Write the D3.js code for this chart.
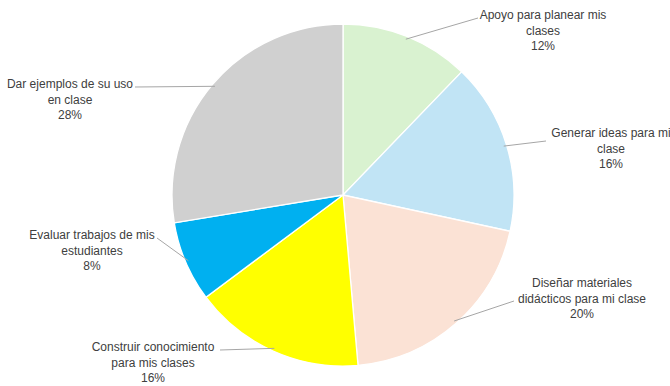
<!DOCTYPE html>
<html>
<head>
<meta charset="utf-8">
<script src="https://cdn.jsdelivr.net/npm/d3@7"></script>
<style>
  body { margin: 0; background: #fff; }
  svg { display: block; }
</style>
</head>
<body>
<div id="chart"></div>
<script>
// Data (shares; labels show them rounded)
const categories = [
  "Apoyo para planear mis clases",
  "Generar ideas para mi clase",
  "Diseñar materiales didácticos para mi clase",
  "Construir conocimiento para mis clases",
  "Evaluar trabajos de mis estudiantes",
  "Dar ejemplos de su uso en clase"
];
const values = [12.2, 16.2, 20.2, 16.2, 7.6, 27.6];
const labelLines = [
  ["Apoyo para planear mis", "clases"],
  ["Generar ideas para mi", "clase"],
  ["Diseñar materiales", "didácticos para mi clase"],
  ["Construir conocimiento", "para mis clases"],
  ["Evaluar trabajos de mis", "estudiantes"],
  ["Dar ejemplos de su uso", "en clase"]
];
const colors = ["#d9f2d0", "#c1e4f5", "#fbe2d5", "#ffff00", "#00b0f0", "#d0d0d0"];

// Label layout: block centre x, first line y, leader end point
const labelPos = [
  { x: 543, y: 15, lx: 478, ly: 18 },
  { x: 611, y: 133, lx: 546, ly: 141 },
  { x: 582, y: 283, lx: 514, ly: 301 },
  { x: 153, y: 347, lx: 220, ly: 350 },
  { x: 92, y: 235, lx: 157, ly: 238 },
  { x: 70, y: 84, lx: 135, ly: 87 }
];

const width = 670, height = 386;
const cx = 343, cy = 195, radius = 171;

const svg = d3.select("#chart").append("svg")
  .attr("width", width)
  .attr("height", height)
  .attr("font-family", "Liberation Sans, Arial, sans-serif");

const g = svg.append("g").attr("transform", `translate(${cx},${cy})`);

const pie = d3.pie().sort(null).value(d => d.value);
const arcs = pie(values.map((v, i) => ({ value: v, i })));
const arc = d3.arc().innerRadius(0).outerRadius(radius);

g.selectAll("path.slice")
  .data(arcs)
  .join("path")
  .attr("class", "slice")
  .attr("d", arc)
  .attr("fill", d => colors[d.data.i])
  .attr("stroke", "#fff")
  .attr("stroke-width", 1.3);

// Leader lines from slice edge to label
svg.selectAll("polyline.leader")
  .data(arcs)
  .join("polyline")
  .attr("class", "leader")
  .attr("fill", "none")
  .attr("stroke", "#a6a6a6")
  .attr("stroke-width", 1)
  .attr("points", d => {
    const a = (d.startAngle + d.endAngle) / 2;
    const r = radius - 3;
    const sx = cx + r * Math.sin(a), sy = cy - r * Math.cos(a);
    const p = labelPos[d.data.i];
    return `${sx},${sy} ${p.lx},${p.ly}`;
  });

// Labels
const total = d3.sum(values);
const labels = svg.selectAll("text.label")
  .data(arcs)
  .join("text")
  .attr("class", "label")
  .attr("text-anchor", "middle")
  .attr("font-size", 12)
  .attr("fill", "#404040");

labels.each(function (d) {
  const p = labelPos[d.data.i];
  const lines = labelLines[d.data.i].concat([Math.round(d.data.value / total * 100) + "%"]);
  d3.select(this).selectAll("tspan")
    .data(lines)
    .join("tspan")
    .attr("x", p.x)
    .attr("y", (t, j) => p.y + j * 15.5)
    .attr("dy", "0.35em")
    .text(t => t);
});
</script>
</body>
</html>
